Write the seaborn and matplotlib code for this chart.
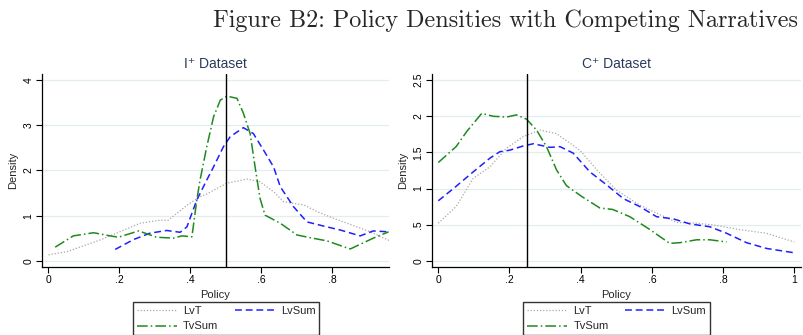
import numpy as np
import pandas as pd
import matplotlib
matplotlib.use("Agg")
import matplotlib.pyplot as plt
import seaborn as sns
from matplotlib.lines import Line2D
from matplotlib.ticker import FuncFormatter

sns.set_theme(style="white")
plt.rcParams["font.family"] = ["Liberation Sans", "DejaVu Sans"]

# ---- I+ dataset: kernel density estimates of policy ----
i_lvt_x = [0.0, 0.052, 0.146, 0.258, 0.315, 0.336, 0.39, 0.427, 0.446, 0.5025, 0.559,
           0.596, 0.634, 0.662, 0.69, 0.718, 0.756, 0.803, 0.869, 0.906, 0.962]
i_lvt_y = [0.13, 0.2, 0.46, 0.83, 0.9, 0.89, 1.23, 1.42, 1.48, 1.72, 1.81,
           1.75, 1.53, 1.31, 1.27, 1.24, 1.09, 0.94, 0.75, 0.64, 0.44]

i_lvsum_x = [0.188, 0.24, 0.286, 0.333, 0.371, 0.39, 0.418, 0.446, 0.465, 0.493, 0.512,
             0.549, 0.577, 0.606, 0.634, 0.653, 0.69, 0.728, 0.784, 0.822, 0.878,
             0.915, 0.958]
i_lvsum_y = [0.25, 0.47, 0.61, 0.67, 0.63, 0.75, 1.35, 1.79, 2.08, 2.53, 2.75,
             2.95, 2.82, 2.45, 2.08, 1.64, 1.2, 0.86, 0.75, 0.68, 0.55,
             0.66, 0.64]

i_tvsum_x = [0.019, 0.07, 0.127, 0.174, 0.197, 0.254, 0.305, 0.352, 0.376, 0.404,
             0.418, 0.427, 0.446, 0.465, 0.484, 0.5025, 0.531, 0.549, 0.568, 0.582,
             0.596, 0.61, 0.653, 0.70, 0.737, 0.784, 0.85, 0.915, 0.958]
i_tvsum_y = [0.30, 0.55, 0.62, 0.55, 0.52, 0.66, 0.52, 0.5, 0.55, 0.53,
             1.35, 1.79, 2.53, 3.19, 3.56, 3.65, 3.6, 3.27, 2.82, 2.08,
             1.38, 1.01, 0.83, 0.57, 0.51, 0.44, 0.26, 0.5, 0.64]

# ---- C+ dataset ----
c_lvt_x = [0.0, 0.05, 0.098, 0.145, 0.192, 0.239, 0.286, 0.332, 0.398, 0.445, 0.50,
           0.566, 0.613, 0.67, 0.726, 0.78, 0.847, 0.922, 1.0]
c_lvt_y = [0.52, 0.75, 1.14, 1.30, 1.56, 1.72, 1.81, 1.76, 1.53, 1.26, 0.98,
           0.77, 0.66, 0.53, 0.52, 0.49, 0.43, 0.38, 0.26]

c_lvsum_x = [0.0, 0.05, 0.098, 0.145, 0.173, 0.2, 0.239, 0.267, 0.314, 0.342, 0.379,
             0.426, 0.473, 0.52, 0.566, 0.613, 0.66, 0.707, 0.763, 0.81, 0.866, 0.922, 1.0]
c_lvsum_y = [0.83, 1.03, 1.23, 1.42, 1.51, 1.53, 1.59, 1.62, 1.57, 1.58, 1.49,
             1.23, 1.05, 0.86, 0.75, 0.61, 0.58, 0.51, 0.47, 0.38, 0.25, 0.17, 0.11]

c_tvsum_x = [0.0, 0.05, 0.08, 0.122, 0.155, 0.192, 0.22, 0.248, 0.276, 0.304, 0.332,
             0.36, 0.403, 0.454, 0.49, 0.538, 0.595, 0.65, 0.679, 0.726, 0.763, 0.81]
c_tvsum_y = [1.36, 1.58, 1.79, 2.04, 2.0, 1.99, 2.02, 1.96, 1.81, 1.58, 1.26,
             1.04, 0.89, 0.73, 0.71, 0.61, 0.43, 0.24, 0.25, 0.29, 0.29, 0.26]

series_names = ["LvT", "LvSum", "TvSum"]
panel_titles = ["I\u207a Dataset", "C\u207a Dataset"]
cutoffs = [0.5, 0.25]

styles = {
    "LvT": dict(color="#a8a8a8", lw=0.9, linestyle=(0, (1, 1.5))),
    "LvSum": dict(color="#1f1fff", lw=1.1, linestyle=(0, (4.5, 2.5))),
    "TvSum": dict(color="#1e8a1e", lw=1.1, linestyle=(0, (7, 2, 1, 2))),
}

fig = plt.figure(figsize=(8.04, 3.35), dpi=100)
ax1 = fig.add_axes([41.7 / 804, 1 - 267 / 335, (389.3 - 41.7) / 804, (267 - 74) / 335])
ax2 = fig.add_axes([431.7 / 804, 1 - 267 / 335, (801 - 431.7) / 804, (267 - 74) / 335])

panels = [
    (ax1, {"LvT": (i_lvt_x, i_lvt_y), "LvSum": (i_lvsum_x, i_lvsum_y),
           "TvSum": (i_tvsum_x, i_tvsum_y)}),
    (ax2, {"LvT": (c_lvt_x, c_lvt_y), "LvSum": (c_lvsum_x, c_lvsum_y),
           "TvSum": (c_tvsum_x, c_tvsum_y)}),
]

def stata_fmt(v, pos):
    s = f"{v:g}"
    if s.startswith("0."):
        s = s[1:]
    return s

for k, (ax, data) in enumerate(panels):
    for name in series_names:
        x, y = data[name]
        sns.lineplot(x=x, y=y, ax=ax, **styles[name])
    ax.axvline(cutoffs[k], color="black", lw=1.0)

    ax.set_title(panel_titles[k], fontsize=10, color="#2b3a5c", pad=4)
    ax.set_xlabel("Policy", fontsize=8, labelpad=3)
    ax.set_ylabel("Density", fontsize=8, labelpad=4)
    ax.xaxis.set_major_formatter(FuncFormatter(stata_fmt))
    ax.yaxis.set_major_formatter(FuncFormatter(stata_fmt))
    ax.tick_params(axis="both", labelsize=7.5, length=4, width=0.8, direction="out",
                   pad=2, colors="black", bottom=True, left=True)
    ax.grid(axis="y", color="#e3ecef", lw=0.9)
    ax.set_axisbelow(True)
    for side in ["top", "right"]:
        ax.spines[side].set_visible(False)
    for side in ["left", "bottom"]:
        ax.spines[side].set_color("black")
        ax.spines[side].set_linewidth(0.9)

ax1.set_xlim(-0.019, 0.96)
ax1.set_ylim(-0.14, 4.14)
ax1.set_xticks([0, 0.2, 0.4, 0.6, 0.8])
ax1.set_yticks([0, 1, 2, 3, 4])

ax2.set_xlim(-0.0185, 1.019)
ax2.set_ylim(-0.087, 2.586)
ax2.set_xticks([0, 0.2, 0.4, 0.6, 0.8, 1.0])
ax2.set_yticks([0, 0.5, 1, 1.5, 2, 2.5])
for ax in (ax1, ax2):
    for lab in ax.get_yticklabels():
        lab.set_rotation(90)
        lab.set_va("center")

handles = [Line2D([], [], **styles[n]) for n in series_names]
order = [0, 2, 1]
for ax, left_px in [(ax1, 133), (ax2, 523.3)]:
    leg = fig.legend([handles[i] for i in order], [series_names[i] for i in order],
                     ncol=2, loc="upper left",
                     bbox_to_anchor=(left_px / 804, 1 - 302 / 335),
                     fontsize=8, frameon=True, fancybox=False, handlelength=3.6,
                     columnspacing=1.45, borderpad=0.35, labelspacing=0.5,
                     handletextpad=0.57, borderaxespad=0)
    leg.get_frame().set_edgecolor("black")
    leg.get_frame().set_linewidth(1.0)

fig.text(506 / 804, 1 - 21 / 335, "Figure B2: Policy Densities with Competing Narratives",
         family="cmr10", fontsize=17.4, ha="center", va="center")

fig.savefig("out.png", dpi=100)
